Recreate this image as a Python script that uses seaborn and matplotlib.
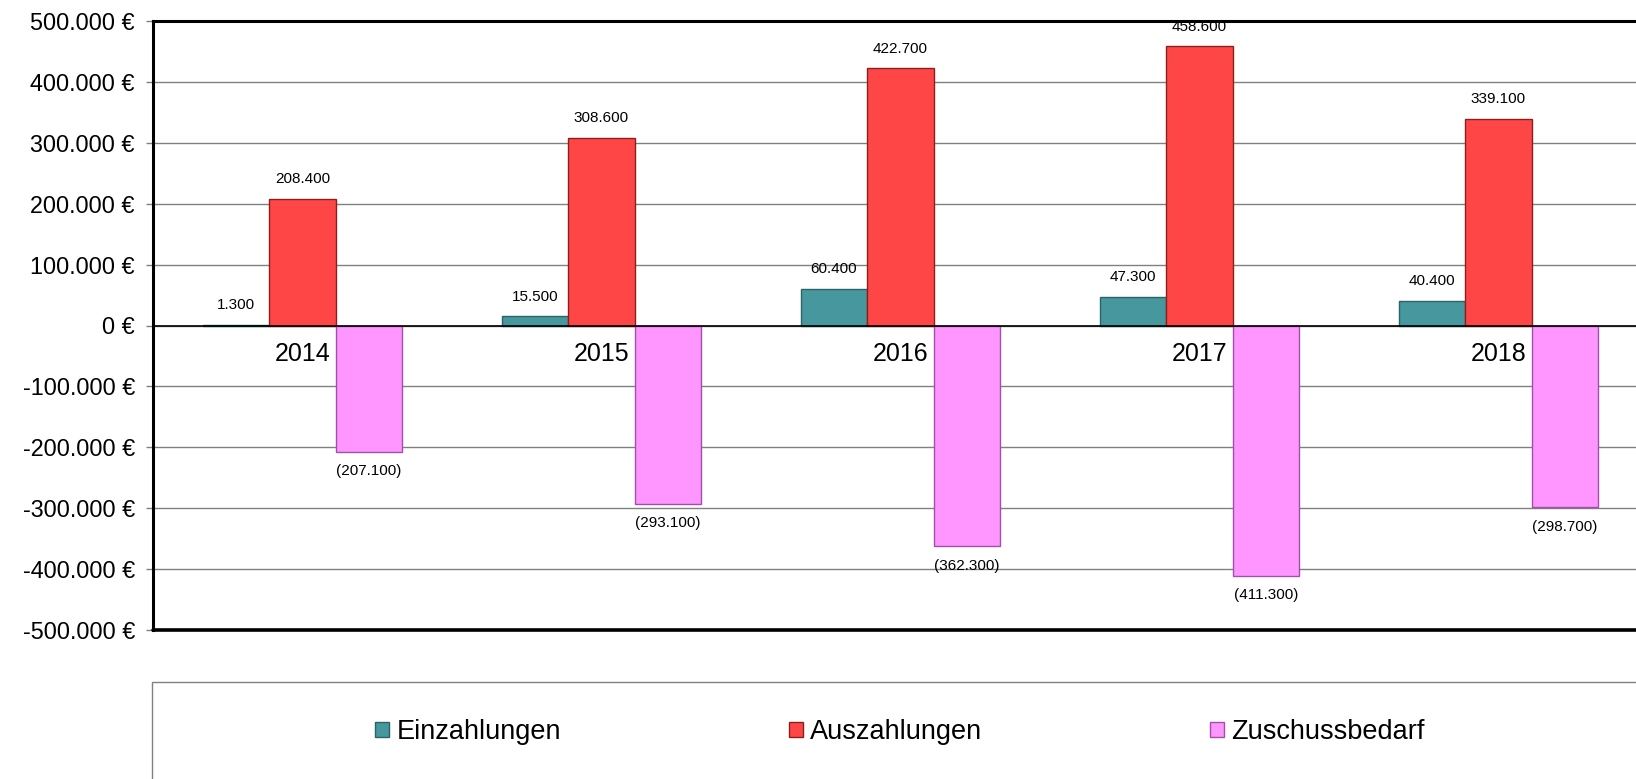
import seaborn as sns
import matplotlib.pyplot as plt
import pandas as pd
from matplotlib.patches import Patch, Rectangle

years = ["2014", "2015", "2016", "2017", "2018"]
series = ["Einzahlungen", "Auszahlungen", "Zuschussbedarf"]
einzahlungen = [1300, 15500, 60400, 47300, 40400]
auszahlungen = [208400, 308600, 422700, 458600, 339100]
zuschussbedarf = [-207100, -293100, -362300, -411300, -298700]
y_ticks = [-500000, -400000, -300000, -200000, -100000, 0,
           100000, 200000, 300000, 400000, 500000]

fill_colors = ["#46979E", "#FF4646", "#FF96FF"]
edge_colors = ["#2B6367", "#8B1E1E", "#A050A8"]


def fmt_thousands(v):
    s = f"{abs(v):,.0f}".replace(",", ".")
    return f"({s})" if v < 0 else s


df = pd.DataFrame({
    "Jahr": years * 3,
    "Serie": [s for s in series for _ in years],
    "Wert": einzahlungen + auszahlungen + zuschussbedarf,
})

sns.set_style("white")
plt.rcParams["font.family"] = ["Liberation Sans", "DejaVu Sans"]
plt.rcParams["text.color"] = "black"
plt.rcParams["xtick.labelcolor"] = "black"
plt.rcParams["ytick.labelcolor"] = "black"

fig = plt.figure(figsize=(16.36, 7.79), dpi=100)
ax = fig.add_axes([153 / 1636, 1 - 630 / 779, 1495 / 1636, 609 / 779])

sns.barplot(data=df, x="Jahr", y="Wert", hue="Serie", hue_order=series,
            palette=fill_colors, width=0.667, gap=0, ax=ax, legend=False,
            errorbar=None, saturation=1)

for cont, ec, vals in zip(ax.containers, edge_colors,
                          [einzahlungen, auszahlungen, zuschussbedarf]):
    for bar in cont:
        bar.set_edgecolor(ec)
        bar.set_linewidth(1)
    ax.bar_label(cont, labels=[fmt_thousands(v) for v in vals],
                 padding=9, fontsize=11, color="black")

ax.set_ylim(-500000, 500000)
ax.set_xlim(-0.5, 4.5)
ax.set_yticks(y_ticks)
ax.set_yticklabels([f"{v:,.0f} €".replace(",", ".") for v in y_ticks],
                   fontsize=16.8)
ax.yaxis.grid(True, color="#808080", lw=1)
ax.set_axisbelow(True)

# category axis sits on the zero line
ax.spines["bottom"].set_position(("data", 0))
ax.spines["bottom"].set_linewidth(1.2)
ax.spines["bottom"].set_color("black")
ax.set_xticks([0.5, 1.5, 2.5, 3.5])
ax.set_xticklabels([])
ax.set_xticks(range(len(years)), minor=True)
ax.set_xticklabels(years, minor=True, fontsize=18)
ax.tick_params(axis="x", which="major", direction="out", length=5,
               width=1, color="#808080")
ax.tick_params(axis="x", which="minor", length=0, pad=12)
ax.tick_params(axis="y", direction="out", length=5, width=1,
               color="#808080", pad=8, left=True)

for side in ["left", "top"]:
    ax.spines[side].set_linewidth(2.2)
    ax.spines[side].set_color("black")
ax.spines["right"].set_visible(False)
ax.axhline(-500000, color="black", lw=2.6, clip_on=False, zorder=5)
ax.set_xlabel("")
ax.set_ylabel("")

# legend box runs past the figure edge like the original
fig.patches.append(Rectangle((152 / 1636, -0.2), 1.2, 1 - 682 / 779 + 0.2,
                             transform=fig.transFigure, fill=False,
                             edgecolor="#808080", lw=1))
handles = [Patch(facecolor=fc, edgecolor=ec, lw=1)
           for fc, ec in zip(fill_colors, edge_colors)]
fig.legend(handles, series, loc="center", ncol=3, frameon=False,
           bbox_to_anchor=(900 / 1636, 1 - 732 / 779), fontsize=19.5,
           handlelength=0.52, handleheight=0.52, handletextpad=0.28,
           columnspacing=8.4)

fig.savefig("out.png", dpi=100)
